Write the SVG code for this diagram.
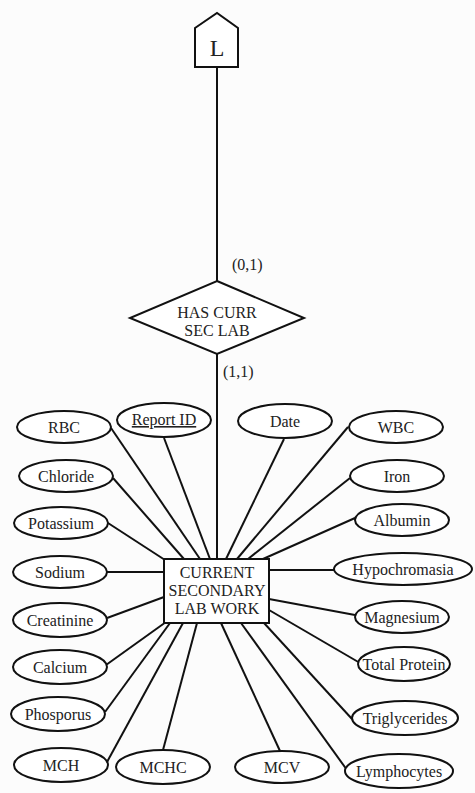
<svg xmlns="http://www.w3.org/2000/svg" width="475" height="793" viewBox="0 0 475 793">
<style>
.s{fill:#fff;stroke:#111;stroke-width:2}
.c line{stroke:#111;stroke-width:2}
text{font-family:"Liberation Serif","Times New Roman",serif;font-size:16px;fill:#222;text-anchor:middle}
</style>
<rect width="475" height="793" fill="#fcfcfc"/>
<g id="connectors" class="c">
<line x1="217" y1="67" x2="217" y2="281"/>
<line x1="217" y1="354" x2="217" y2="559"/>
<line x1="111" y1="428" x2="200" y2="559"/>
<line x1="164" y1="438" x2="210" y2="559"/>
<line x1="113" y1="478" x2="184" y2="559"/>
<line x1="108" y1="523" x2="165" y2="560"/>
<line x1="107" y1="572" x2="164" y2="572"/>
<line x1="107" y1="618" x2="164" y2="597"/>
<line x1="106" y1="665" x2="166" y2="622"/>
<line x1="105" y1="712" x2="170" y2="623"/>
<line x1="107" y1="762" x2="183" y2="623"/>
<line x1="163" y1="750" x2="197" y2="623"/>
<line x1="280" y1="751" x2="221" y2="623"/>
<line x1="347" y1="770" x2="241" y2="623"/>
<line x1="352" y1="719" x2="264" y2="623"/>
<line x1="360" y1="663" x2="269" y2="610"/>
<line x1="355" y1="615" x2="269" y2="599"/>
<line x1="334" y1="570" x2="269" y2="570"/>
<line x1="355" y1="518" x2="263" y2="559"/>
<line x1="350" y1="478" x2="248" y2="559"/>
<line x1="348" y1="427" x2="237" y2="559"/>
<line x1="284" y1="439" x2="226" y2="559"/>
</g>
<g id="L">
<polygon class="s" points="195,28 217,13 238,28 238,67 195,67"/>
<text x="217" y="56" style="font-size:24px">L</text>
</g>
<g id="has_curr_sec_lab">
<polygon class="s" points="217,281 304,318 217,354 130,318"/>
<text x="217" y="318">HAS CURR</text>
<text x="217" y="336">SEC LAB</text>
</g>
<text x="232" y="270" style="text-anchor:start">(0,1)</text>
<text x="223" y="377" style="text-anchor:start">(1,1)</text>
<g id="current_secondary_lab_work">
<rect class="s" x="164" y="559" width="105" height="64"/>
<text x="217" y="578">CURRENT</text>
<text x="217" y="596">SECONDARY</text>
<text x="217" y="614">LAB WORK</text>
</g>
<g id="rbc"><ellipse class="s" cx="64" cy="427" rx="47" ry="16"/><text x="64" y="433">RBC</text></g>
<g id="report_id"><ellipse class="s" cx="164" cy="420" rx="47" ry="17"/><text x="164" y="425" text-decoration="underline">Report ID</text></g>
<g id="date"><ellipse class="s" cx="285" cy="421" rx="47" ry="17"/><text x="285" y="427">Date</text></g>
<g id="wbc"><ellipse class="s" cx="396" cy="427" rx="47" ry="16"/><text x="396" y="433">WBC</text></g>
<g id="chloride"><ellipse class="s" cx="66" cy="476" rx="47" ry="16"/><text x="66" y="482">Chloride</text></g>
<g id="iron"><ellipse class="s" cx="397" cy="476" rx="47" ry="16"/><text x="397" y="482">Iron</text></g>
<g id="potassium"><ellipse class="s" cx="61" cy="523" rx="47" ry="16"/><text x="61" y="529">Potassium</text></g>
<g id="albumin"><ellipse class="s" cx="402" cy="520" rx="47" ry="16"/><text x="402" y="526">Albumin</text></g>
<g id="sodium"><ellipse class="s" cx="60" cy="572" rx="47" ry="16"/><text x="60" y="578">Sodium</text></g>
<g id="hypochromasia"><ellipse class="s" cx="403" cy="569" rx="69" ry="16"/><text x="403" y="575">Hypochromasia</text></g>
<g id="creatinine"><ellipse class="s" cx="60" cy="620" rx="47" ry="17"/><text x="60" y="626">Creatinine</text></g>
<g id="magnesium"><ellipse class="s" cx="402" cy="617" rx="47" ry="16"/><text x="402" y="623">Magnesium</text></g>
<g id="calcium"><ellipse class="s" cx="60" cy="667" rx="47" ry="17"/><text x="60" y="673">Calcium</text></g>
<g id="total_protein"><ellipse class="s" cx="404" cy="664" rx="46" ry="17"/><text x="404" y="670">Total Protein</text></g>
<g id="phosporus"><ellipse class="s" cx="58" cy="714" rx="47" ry="17"/><text x="58" y="720">Phosporus</text></g>
<g id="triglycerides"><ellipse class="s" cx="405" cy="718" rx="53" ry="17"/><text x="405" y="724">Triglycerides</text></g>
<g id="mch"><ellipse class="s" cx="61" cy="765" rx="47" ry="17"/><text x="61" y="771">MCH</text></g>
<g id="mchc"><ellipse class="s" cx="163" cy="767" rx="47" ry="17"/><text x="163" y="773">MCHC</text></g>
<g id="mcv"><ellipse class="s" cx="282" cy="767" rx="47" ry="16"/><text x="282" y="773">MCV</text></g>
<g id="lymphocytes"><ellipse class="s" cx="399" cy="771" rx="54" ry="17"/><text x="399" y="777">Lymphocytes</text></g>
</svg>
